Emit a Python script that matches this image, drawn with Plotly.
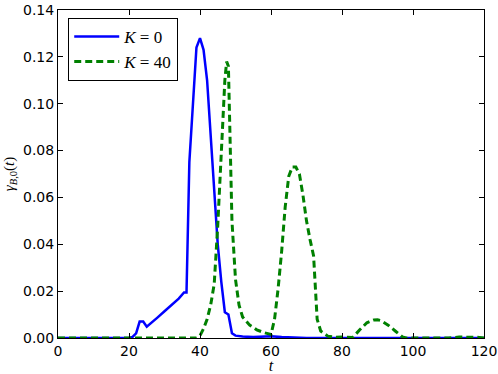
import plotly.graph_objects as go

# K = 0 series
k0_t = [0, 20, 21, 22, 23, 24, 25, 26, 28, 30, 32, 34, 35.5, 36.2, 37, 38, 39, 40,
        41, 42, 43, 44, 45, 46, 47, 48, 49, 50, 52, 55, 58, 60, 63, 66, 70, 120]
k0_y = [0, 0, 0.0005, 0.002, 0.007, 0.007, 0.0048, 0.006, 0.0087, 0.0114, 0.0141,
        0.0168, 0.0194, 0.0194, 0.075, 0.100, 0.124, 0.128,
        0.123, 0.110, 0.087, 0.063, 0.040, 0.024, 0.011, 0.010, 0.002, 0.001,
        0.0006, 0.0004, 0.0005, 0.0007, 0.0004, 0.0002, 0, 0]

# K = 40 series
k40_t = [0, 39, 40, 41, 42, 43, 44, 45, 46, 47, 47.5, 48, 49, 50, 51, 52, 54, 56,
         58, 60, 61, 62, 63, 64, 65, 66, 67, 68, 69, 70, 71, 72, 73, 74, 76, 78,
         80, 83, 85, 87, 89, 90, 91, 93, 95, 97, 98, 110, 113, 116, 118, 120]
k40_y = [0, 0, 0.001, 0.004, 0.008, 0.014, 0.023, 0.048, 0.079, 0.110, 0.118,
         0.116, 0.050, 0.025, 0.014, 0.009, 0.0055, 0.0035,
         0.0023, 0.0015, 0.008, 0.021, 0.037, 0.056, 0.069, 0.073, 0.073, 0.070,
         0.061, 0.050, 0.042, 0.035, 0.008, 0.003, 0.0008, 0.0003,
         0.0004, 0.0002, 0.0035, 0.0065, 0.0077, 0.0078, 0.0074, 0.0055, 0.003,
         0.0005, 0, 0, 0.0004, 0.0005, 0.0003, 0]

x_ticks = [0, 20, 40, 60, 80, 100, 120]
y_ticks = [0.00, 0.02, 0.04, 0.06, 0.08, 0.10, 0.12, 0.14]

fig = go.Figure()

fig.add_trace(go.Scatter(
    x=k0_t, y=k0_y, mode='lines', name='<i>K</i> = 0',
    line=dict(color='#0000ff', width=2.5)
))

fig.add_trace(go.Scatter(
    x=k40_t, y=k40_y, mode='lines', name='<i>K</i> = 40',
    line=dict(color='#008000', width=3, dash='7px,4px')
))

axis_style = dict(
    showline=True, linecolor='black', linewidth=1, mirror='ticks',
    ticks='inside', ticklen=5, tickcolor='black', showgrid=False, zeroline=False,
    automargin=False,
    tickfont=dict(family='DejaVu Sans', size=14, color='black')
)

fig.update_xaxes(
    range=[0, 120], tickvals=x_ticks,
    title=dict(text='<i>t</i>', font=dict(family='Liberation Serif', size=16, color='black'),
               standoff=4),
    **axis_style
)
fig.update_yaxes(
    range=[0, 0.14], tickvals=y_ticks, tickformat='.2f',
    title=dict(text='<i>γ</i><sub><i>B</i>,0</sub>(<i>t</i>)',
               font=dict(family='Liberation Serif', size=15, color='black'), standoff=4),
    **axis_style
)

fig.update_layout(
    width=498, height=374,
    margin=dict(l=58, r=14, t=10, b=36),
    plot_bgcolor='white', paper_bgcolor='white',
    legend=dict(
        x=0.024, y=0.976, xanchor='left', yanchor='top',
        bgcolor='white', bordercolor='black', borderwidth=1,
        font=dict(family='Liberation Serif', size=17, color='black'),
        itemwidth=45, tracegroupgap=0
    ),
    showlegend=True
)

# drop the default 8px body margin so the figure sits at the page corner
fig.write_html("out.html", config={'displayModeBar': False},
               post_script="document.body.style.margin='0';")
